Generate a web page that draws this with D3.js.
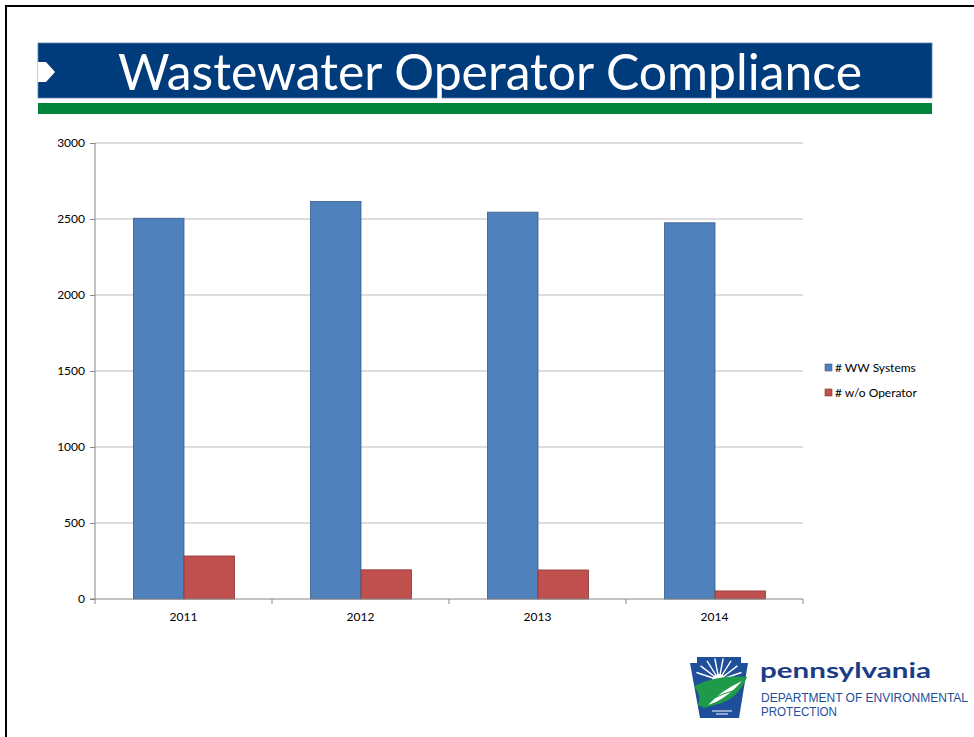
<!DOCTYPE html>
<html><head><meta charset="utf-8">
<script src="https://cdn.jsdelivr.net/npm/d3@7"></script>
<style>html,body{margin:0;padding:0;background:#fff;overflow:hidden}</style>
</head><body>
<script>
const categories = ["2011", "2012", "2013", "2014"];
const seriesNames = ["# WW Systems", "# w/o Operator"];
const wwSystems = [2505, 2615, 2545, 2475];
const withoutOperator = [283, 192, 191, 53];
const yTicks = [0, 500, 1000, 1500, 2000, 2500, 3000];
const seriesColors = ["#4F81BD", "#C0504D"];
const seriesStroke = ["#385D8A", "#8C3836"];

const W = 974, H = 737;
const FONT = "Lato, 'Open Sans', sans-serif";
const svg = d3.select("body").append("svg").attr("width", W).attr("height", H);

// slide frame
svg.append("rect").attr("x", 6).attr("y", 6).attr("width", W + 20).attr("height", H + 20)
  .attr("fill", "none").attr("stroke", "#000").attr("stroke-width", 2);

// title banner
svg.append("rect").attr("x", 38).attr("y", 43).attr("width", 894).attr("height", 55).attr("fill", "#003B7B")
  .attr("stroke", "#5a7fb0").attr("stroke-width", 0.8);
svg.append("path").attr("d", "M38,62 L46,62 L55,72 L46,82 L38,82 Z").attr("fill", "#fff");
svg.append("rect").attr("x", 38).attr("y", 103).attr("width", 894).attr("height", 11).attr("fill", "#00843D");
svg.append("text").attr("x", 118).attr("y", 90)
  .attr("fill", "#fff").attr("font-family", FONT).attr("font-size", 50)
  .attr("textLength", 744).attr("lengthAdjust", "spacingAndGlyphs")
  .text("Wastewater Operator Compliance");

// chart
const x0 = 95, x1 = 803, yTop = 143, yBot = 599;
const x = d3.scaleBand().domain(categories).range([x0, x1]).paddingInner(0).paddingOuter(0);
const y = d3.scaleLinear().domain([0, 3000]).range([yBot, yTop]);
const bw = x.bandwidth() / 3.5;
const xs = d3.scaleBand().domain(seriesNames).range([0, bw * 2]);

const g = svg.append("g");

// gridlines
g.selectAll("line.grid").data(yTicks.filter(d => d > 0)).enter().append("line")
  .attr("x1", x0).attr("x2", x1).attr("y1", d => y(d)).attr("y2", d => y(d))
  .attr("stroke", "#BEBEBE").attr("stroke-width", 1.2);

// bars
const data = [wwSystems, withoutOperator];
data.forEach((vals, si) => {
  g.selectAll("rect.s" + si).data(categories).enter().append("rect")
    .attr("x", (c) => x(c) + bw * 0.75 + xs(seriesNames[si]) + 0.5)
    .attr("y", (c, i) => y(vals[i]))
    .attr("width", bw)
    .attr("height", (c, i) => y(0) - y(vals[i]))
    .attr("fill", seriesColors[si]).attr("stroke", seriesStroke[si]).attr("stroke-width", 0.8);
});

// y axis
const yAxis = d3.axisLeft(y).tickValues(yTicks).tickSize(5).tickPadding(5).tickFormat(d3.format("d"));
const ya = svg.append("g").attr("transform", `translate(${x0},0)`).call(yAxis);
ya.select(".domain").attr("stroke", "#868686").attr("d", `M0,${yTop}V${yBot}`);
ya.selectAll(".tick line").attr("stroke", "#868686");
ya.selectAll("text").attr("font-family", FONT).attr("font-size", 12).attr("fill", "#000");

// x axis
const xa = svg.append("g").attr("transform", `translate(0,${yBot})`);
xa.append("line").attr("x1", x0 - 5).attr("x2", x1).attr("y1", 0).attr("y2", 0).attr("stroke", "#868686");
const bounds = categories.map(c => x(c)).concat([x1]);
xa.selectAll("line.tk").data(bounds).enter().append("line")
  .attr("x1", d => d).attr("x2", d => d).attr("y1", 0).attr("y2", 5).attr("stroke", "#868686");
xa.selectAll("text").data(categories).enter().append("text")
  .attr("x", c => x(c) + x.bandwidth() / 2).attr("y", 21.5).attr("text-anchor", "middle")
  .attr("font-family", FONT).attr("font-size", 12).text(c => c);

// legend
const lg = svg.append("g").attr("transform", "translate(825,364)");
seriesNames.forEach((n, i) => {
  lg.append("rect").attr("x", 0).attr("y", i * 25).attr("width", 7).attr("height", 7)
    .attr("fill", seriesColors[i]).attr("stroke", seriesStroke[i]).attr("stroke-width", 0.6);
  lg.append("text").attr("x", 10).attr("y", i * 25 + 8)
    .attr("font-family", FONT).attr("font-size", 12).text(n);
});

// logo
const logo = svg.append("g");
logo.append("path").attr("d", "M697,657 L741,657 L741,663 L748,663 L739,718 L700,718 L690,663 L697,663 Z").attr("fill", "#1F4E9A");
const sun = logo.append("g").attr("stroke", "#fff").attr("stroke-width", 1.4);
[-70, -50, -30, -10, 10, 30, 50, 70].forEach(a => {
  const r = a * Math.PI / 180;
  sun.append("line").attr("x1", 719).attr("y1", 680).attr("x2", 719 + 24 * Math.sin(r)).attr("y2", 680 - 22 * Math.cos(r));
});
logo.append("circle").attr("cx", 719).attr("cy", 681).attr("r", 7).attr("fill", "#fff");
logo.append("path").attr("d", "M694,686 Q718,674 747,677 Q738,700 715,705 L704,708 L698,705 Q702,696 694,686 Z").attr("fill", "#1E9A48");
logo.append("path").attr("d", "M708,705 Q722,690 742,681 Q730,695 716,702 Z").attr("fill", "#fff");
logo.append("path").attr("d", "M712,699 Q724,693 736,690").attr("stroke", "#1E9A48").attr("stroke-width", 1).attr("fill", "none");
logo.append("line").attr("x1", 712).attr("x2", 732).attr("y1", 711).attr("y2", 711).attr("stroke", "#fff").attr("stroke-width", 1);
logo.append("line").attr("x1", 716).attr("x2", 728).attr("y1", 714).attr("y2", 714).attr("stroke", "#fff").attr("stroke-width", 1);

logo.append("text").attr("x", 760).attr("y", 678).attr("font-family", FONT)
  .attr("font-weight", "bold").attr("font-size", 21).attr("fill", "#1B3C87")
  .attr("textLength", 171).attr("lengthAdjust", "spacingAndGlyphs").text("pennsylvania");
logo.append("text").attr("x", 761).attr("y", 701.5).attr("font-family", "'Liberation Sans', Arial, sans-serif")
  .attr("font-size", 12).attr("fill", "#1F4E9A")
  .attr("textLength", 207).attr("lengthAdjust", "spacingAndGlyphs").text("DEPARTMENT OF ENVIRONMENTAL");
logo.append("text").attr("x", 761).attr("y", 715.5).attr("font-family", "'Liberation Sans', Arial, sans-serif")
  .attr("font-size", 12).attr("fill", "#1F4E9A")
  .attr("textLength", 76).attr("lengthAdjust", "spacingAndGlyphs").text("PROTECTION");
</script>
</body></html>
